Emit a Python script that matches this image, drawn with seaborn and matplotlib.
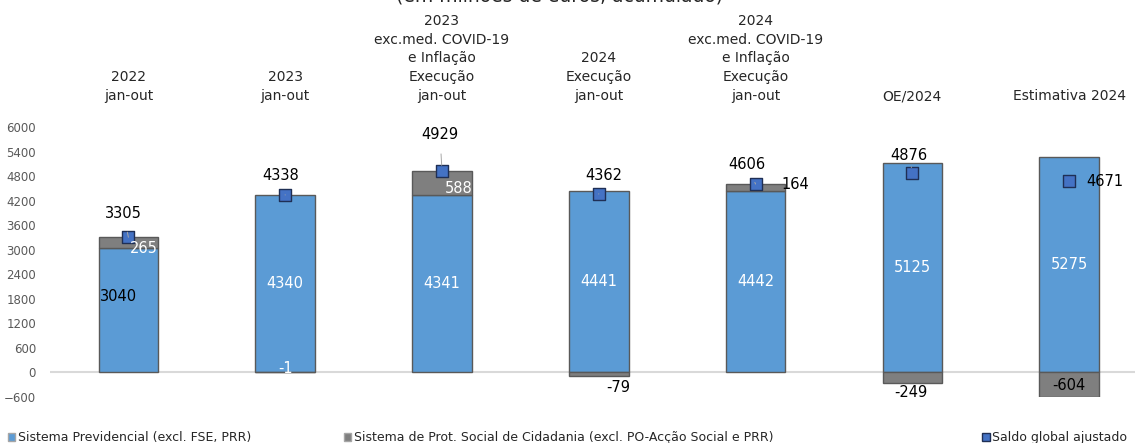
import numpy as np
import matplotlib
matplotlib.use("Agg")
import matplotlib.pyplot as plt
import seaborn as sns
from matplotlib.patches import Patch
from matplotlib.lines import Line2D

categories = [
    "2022\njan-out",
    "2023\njan-out",
    "2023\nexc.med. COVID-19\ne Inflação\nExecução\njan-out",
    "2024\nExecução\njan-out",
    "2024\nexc.med. COVID-19\ne Inflação\nExecução\njan-out",
    "OE/2024",
    "Estimativa 2024",
]
previdencial = [3040, 4340, 4341, 4441, 4442, 5125, 5275]
cidadania = [265, -1, 588, -79, 164, -249, -604]
saldo = [3305, 4338, 4929, 4362, 4606, 4876, 4671]

series_names = [
    "Sistema Previdencial (excl. FSE, PRR)",
    "Sistema de Prot. Social de Cidadania (excl. PO-Acção Social e PRR)",
    "Saldo global ajustado",
]

BLUE = "#5B9BD5"
GRAY = "#7F7F7F"
EDGE = "#595959"
MARK = "#4472C4"

sns.set_style("white")
plt.rcParams["font.family"] = ["DejaVu Sans"]

fig = plt.figure(figsize=(11.35, 4.43), dpi=100)
ax = fig.add_axes([50 / 1135, 1 - 397 / 443, 1 - 50 / 1135, 270 / 443])

prev = np.array(previdencial)
cid = np.array(cidadania)
bottoms = np.where(cid > 0, prev, 0)

sns.barplot(x=categories, y=previdencial, color=BLUE, width=0.38,
            edgecolor=EDGE, linewidth=1, saturation=1, ax=ax, zorder=2)
sns.barplot(x=categories, y=cidadania, bottom=bottoms, color=GRAY, width=0.38,
            edgecolor=EDGE, linewidth=1, saturation=1, ax=ax, zorder=2)

xs = np.arange(len(categories))
sns.scatterplot(x=xs, y=saldo, marker="s", s=70, color=MARK,
                edgecolor="#1F2F55", linewidth=1, ax=ax, zorder=4, legend=False)

ax.axhline(0, color="#D9D9D9", lw=1.5, zorder=1)

# labels of the blue segments
for i, v in enumerate(previdencial):
    if i == 0:
        ax.annotate(str(v), (i, v / 2), xytext=(-10, 14), textcoords="offset pixels",
                    ha="center", va="center", fontsize=10.5, color="black", zorder=5)
    else:
        ax.annotate(str(v), (i, v / 2), ha="center", va="center",
                    fontsize=10.5, color="white", zorder=5)

# labels of the grey segments
cid_off = [(15, 0), (0, 4), (17, 6), (19, -12), (40, 0), (-1, -10), (0, 12)]
cid_col = ["white", "white", "white", "black", "black", "black", "black"]
for i, v in enumerate(cidadania):
    anchor = prev[i] if i in (0, 2) else (0 if i == 1 else bottoms[i] + v)
    ax.annotate(str(v), (i, anchor), xytext=cid_off[i], textcoords="offset pixels",
                ha="center", va="center", fontsize=10.5, color=cid_col[i], zorder=5)

# labels of the saldo markers
saldo_off = [(-5, 24), (-5, 19), (-2, 36), (5, 19), (-9, 20), (-3, 17), (17, 0)]
for i, v in enumerate(saldo):
    dx, dy = saldo_off[i]
    if i == len(saldo) - 1:
        ax.annotate(str(v), (i, v), xytext=(dx, dy), textcoords="offset pixels",
                    ha="left", va="center", fontsize=10.5, color="black", zorder=5)
    else:
        ax.annotate(str(v), (i, v), xytext=(dx, dy), textcoords="offset pixels",
                    ha="center", va="center", fontsize=10.5, color="black", zorder=5,
                    arrowprops=dict(arrowstyle="-", color="#A6A6A6", lw=0.7,
                                    shrinkA=6, shrinkB=4))

ax.set_ylim(-600, 6000)
ax.set_yticks(range(-600, 6001, 600))
ax.set_xlim(-0.5, 6.42)
ax.tick_params(axis="y", length=0, pad=10, labelsize=8.5, labelcolor="#595959")
ax.xaxis.set_ticks_position("top")
ax.tick_params(axis="x", length=0, pad=17, labelsize=10, labelcolor="#262626",
               labeltop=True, labelbottom=False)
for lab in ax.get_xticklabels():
    lab.set_linespacing(1.45)
    lab.set_multialignment("center")
ax.set_xlabel("")
for sp in ax.spines.values():
    sp.set_visible(False)

fig.text(560 / 1135, 1 - 2 / 443, "(em milhões de euros, acumulado)",
         ha="center", va="baseline", fontsize=13.5, color="#262626")

handles = [
    Patch(facecolor=BLUE, edgecolor="#A6A6A6"),
    Patch(facecolor=GRAY, edgecolor="#A6A6A6"),
    Line2D([], [], marker="s", ls="none", markersize=6, markerfacecolor=MARK,
           markeredgecolor="#1F2F55"),
]
legend_pos = [("lower left", 0), ("lower left", 336 / 1135), ("lower right", 1.0)]
for h, name, (loc, lx) in zip(handles, series_names, legend_pos):
    fig.legend(handles=[h], labels=[name], loc=loc,
               bbox_to_anchor=(lx, -0.02), frameon=False, fontsize=9,
               handlelength=0.6, handleheight=0.6, handletextpad=0.25,
               borderaxespad=0.2, labelcolor="#262626")

fig.savefig("out.png", dpi=100)
